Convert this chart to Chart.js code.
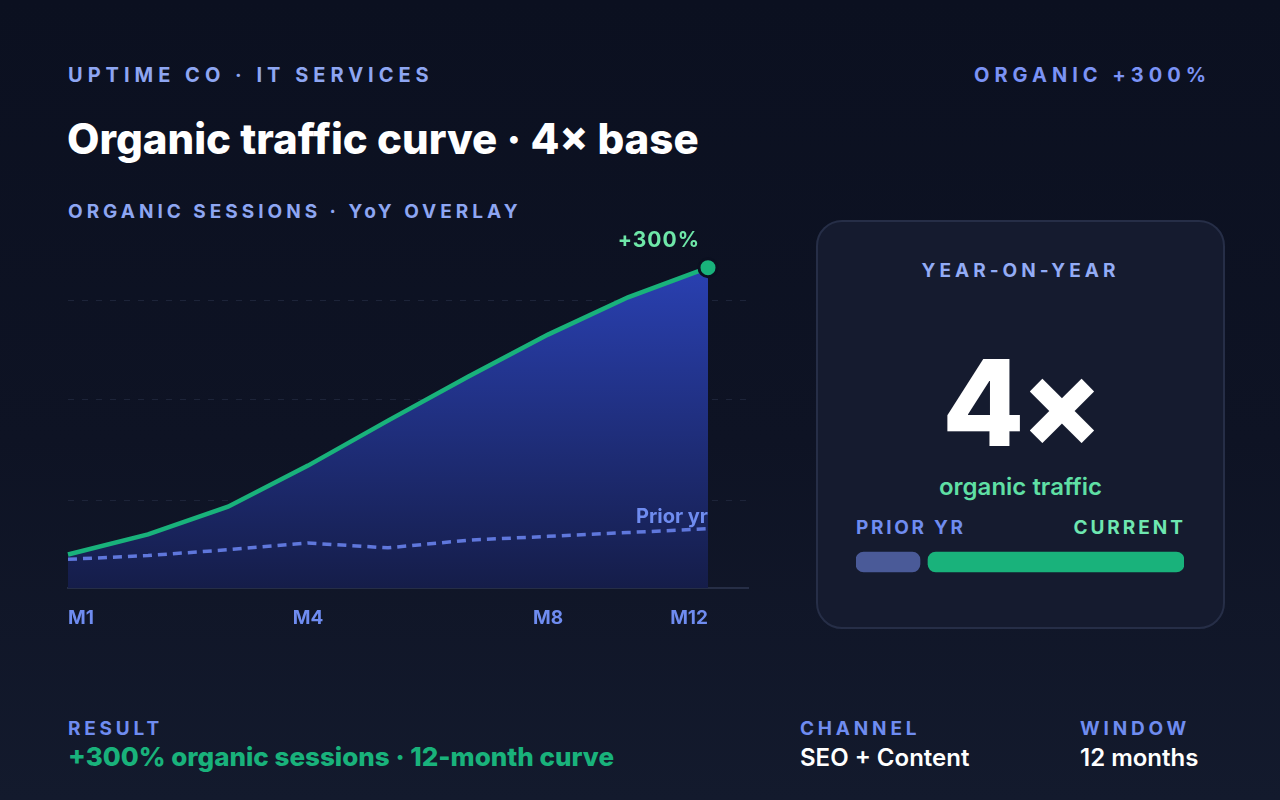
<!DOCTYPE html>
<html>
<head>
  <meta charset="UTF-8" />
  <title>Organic traffic curve</title>
  <script src="https://cdn.jsdelivr.net/npm/chart.js"></script>
  <style>
    * { margin: 0; padding: 0; box-sizing: border-box; }
    html, body { width: 1280px; height: 800px; overflow: hidden; }
    body {
      font-family: Inter, "Noto Sans", sans-serif;
      background: linear-gradient(180deg, #0b1020 0%, #0e1324 55%, #131a2d 100%);
      position: relative;
      color: #fff;
    }
    .abs { position: absolute; white-space: nowrap; }
    .kicker { font-size: 20px; font-weight: 700; letter-spacing: 5px; color: #8ea6f2; }
    .title { font-size: 42px; font-weight: 800; letter-spacing: 0; color: #fff; }
    .sub { font-size: 19px; font-weight: 700; letter-spacing: 4px; color: #8ea6f2; }
    .card {
      position: absolute; left: 816px; top: 220px; width: 409px; height: 409px;
      background: #151b2f; border: 2px solid #262e47; border-radius: 26px;
    }
    .lbl { font-size: 19px; font-weight: 700; letter-spacing: 3.8px; color: #6f8cf0; }
    .val { font-size: 24px; font-weight: 600; }
  </style>
</head>
<body>
  <div class="abs kicker" style="left:68px; top:63px;">UPTIME CO · IT SERVICES</div>
  <div class="abs kicker" style="right:69px; top:63px; color:#7b93f5;">ORGANIC +300%</div>
  <div class="abs title" style="left:67px; top:113px;">Organic traffic curve · 4× base</div>
  <div class="abs sub" style="left:68px; top:200px;">ORGANIC SESSIONS · YoY OVERLAY</div>

  <div class="abs" style="left:60px; top:222px; width:700px; height:410px;">
    <canvas id="chart"></canvas>
  </div>

  <div class="card"></div>
  <div class="abs sub" style="left:816px; width:409px; text-align:center; top:259px; color:#93acf5;">YEAR-ON-YEAR</div>
  <div class="abs" style="left:816px; width:409px; text-align:center; top:328px; font-size:120px; font-weight:800; line-height:150px; letter-spacing:-4px;">4×</div>
  <div class="abs" style="left:816px; width:409px; text-align:center; top:472px; font-size:24px; font-weight:600; color:#5fdfa4;">organic traffic</div>
  <div class="abs lbl" style="left:856px; top:516px; letter-spacing:2.7px;">PRIOR YR</div>
  <div class="abs lbl" style="right:94px; top:516px; letter-spacing:3px; color:#6ee7b1;">CURRENT</div>
  <div class="abs" style="left:856px; top:548px; width:328px; height:28px;">
    <canvas id="yoy"></canvas>
  </div>

  <div class="abs lbl" style="left:68px; top:717px;">RESULT</div>
  <div class="abs val" style="left:68px; top:741px; color:#19b27b; font-size:26px; font-weight:800;">+300% organic sessions · 12-month curve</div>
  <div class="abs lbl" style="left:800px; top:717px;">CHANNEL</div>
  <div class="abs val" style="left:800px; top:743px;">SEO + Content</div>
  <div class="abs lbl" style="left:1080px; top:717px;">WINDOW</div>
  <div class="abs val" style="left:1080px; top:743px;">12 months</div>

  <script>
    // sampled months along the curve (index = x position)
    const months = ['M1', 'M2', 'M3', 'M4', 'M5', 'M7', 'M8', 'M10', 'M12'];
    const tickLabels = ['M1', 'M4', 'M8', 'M12'];
    // organic sessions, indexed to M1 of current year = 100
    const current = [100, 121, 150, 193, 240, 286, 330, 369, 400];
    const prior = [95, 99, 105, 112, 107, 115, 119, 123, 127];
    const gridValues = [157, 262, 366];
    // year-on-year bar: prior vs current multiple
    const yoyLabels = ['Prior yr', 'Current'];
    const yoyValues = [1, 4];

    const GREEN = '#19b27b';
    const PRIOR = '#5f77dc';

    const pts = arr => arr.map((v, i) => ({ x: i, y: v }));
    const last = current.length - 1;

    const labelPlugin = {
      id: 'endLabels',
      afterDatasetsDraw(chart) {
        const { ctx, scales: { x, y } } = chart;
        const px = x.getPixelForValue(last);
        ctx.save();
        ctx.textAlign = 'right';
        ctx.textBaseline = 'middle';
        ctx.letterSpacing = '1px';
        ctx.font = '700 21px Inter';
        ctx.fillStyle = '#6ee7a8';
        ctx.fillText('+' + Math.round((current[last] / current[0] - 1) * 100) + '%', px - 8, y.getPixelForValue(current[last]) - 27);
        ctx.letterSpacing = '0px';
        ctx.font = '700 20px Inter';
        ctx.fillStyle = '#6f8cf0';
        ctx.fillText('Prior yr', px, y.getPixelForValue(prior[last]) - 12);
        ctx.restore();
      }
    };

    new Chart(document.getElementById('chart'), {
      type: 'line',
      data: {
        datasets: [
          {
            label: 'Current year',
            data: pts(current),
            borderColor: GREEN,
            borderWidth: 4.5,
            tension: 0,
            fill: 'start',
            backgroundColor: (c) => {
              const area = c.chart.chartArea;
              if (!area) return '#1e2a7a';
              const g = c.chart.ctx.createLinearGradient(0, area.top, 0, area.bottom);
              g.addColorStop(0, '#2a41b4');
              g.addColorStop(1, '#151d49');
              return g;
            },
            pointRadius: (c) => c.dataIndex === last ? 9 : 0,
            pointBackgroundColor: GREEN,
            pointBorderColor: '#0b1020',
            pointBorderWidth: 3,
            clip: false,
            order: 1
          },
          {
            label: 'Prior yr',
            data: pts(prior),
            borderColor: PRIOR,
            borderWidth: 3.5,
            borderDash: [9, 6],
            tension: 0,
            fill: false,
            pointRadius: 0,
            order: 0
          }
        ]
      },
      options: {
        responsive: true,
        maintainAspectRatio: false,
        animation: false,
        layout: { autoPadding: false, padding: { left: 8, right: 12, top: 38, bottom: 0 } },
        plugins: { legend: { display: false }, tooltip: { enabled: false } },
        scales: {
          x: {
            type: 'linear',
            min: 0,
            max: 8.5,
            afterBuildTicks: (s) => { s.ticks = tickLabels.map(l => ({ value: months.indexOf(l) })); },
            afterFit: (s) => { s.height = 44; s.paddingLeft = 0; s.paddingRight = 0; },
            ticks: {
              align: 'inner',
              padding: 19,
              color: '#6f8cf0',
              font: { family: 'Inter', size: 19, weight: '700' },
              callback: (v) => months[v]
            },
            grid: { display: false, drawTicks: false },
            border: { display: true, color: '#262e46', width: 2 }
          },
          y: {
            min: 65,
            max: 408,
            afterBuildTicks: (s) => { s.ticks = gridValues.map(v => ({ value: v })); },
            afterFit: (s) => { s.width = 0; },
            ticks: { display: false },
            grid: { color: '#1d2439', lineWidth: 1, drawTicks: false },
            border: { display: false, dash: [6, 8] }
          }
        }
      },
      plugins: [labelPlugin]
    });

    const gapUnits = 0.125;
    new Chart(document.getElementById('yoy'), {
      type: 'bar',
      data: {
        labels: ['YoY'],
        datasets: [
          { label: yoyLabels[0], data: [[0, yoyValues[0]]], backgroundColor: '#4a5a98', grouped: false },
          { label: yoyLabels[1], data: [[yoyValues[0] + gapUnits, yoyValues[0] + gapUnits + yoyValues[1]]], backgroundColor: GREEN, grouped: false }
        ]
      },
      options: {
        indexAxis: 'y',
        responsive: true,
        maintainAspectRatio: false,
        animation: false,
        layout: { padding: 0 },
        datasets: { bar: { barThickness: 20, borderRadius: 8, borderSkipped: false } },
        plugins: { legend: { display: false }, tooltip: { enabled: false } },
        scales: {
          x: { display: false, min: 0, max: yoyValues[0] + yoyValues[1] + gapUnits },
          y: { display: false }
        }
      }
    });
  </script>
</body>
</html>
